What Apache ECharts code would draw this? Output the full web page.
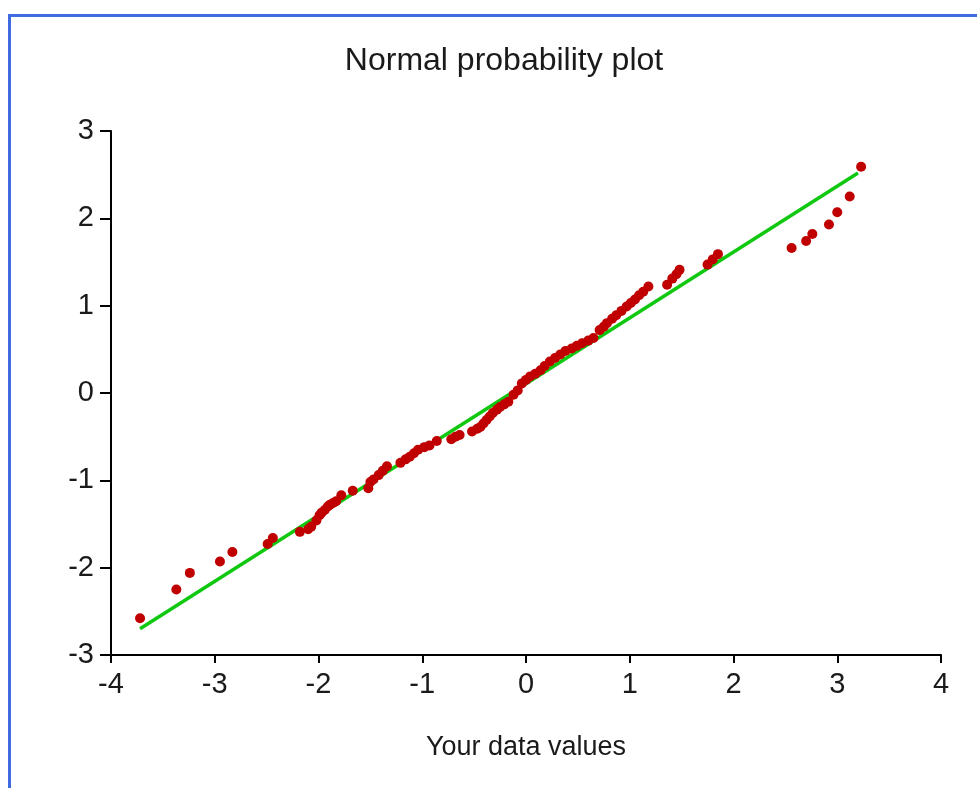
<!DOCTYPE html>
<html>
<head>
<meta charset="utf-8">
<script src="https://cdn.jsdelivr.net/npm/echarts@6/dist/echarts.min.js"></script>
<style>html,body{margin:0;padding:0;background:#fff}#c{width:977px;height:788px}</style>
</head>
<body>
<div id="c"></div>
<script>
// Observed data values (x) and normal scores (y)
const dataValues = [-3.72,-3.37,-3.24,-2.95,-2.83,-2.49,-2.44,-2.18,-2.10,-2.07,-2.02,-1.99,-1.97,-1.94,-1.91,-1.89,-1.86,-1.83,-1.78,-1.67,-1.52,-1.50,-1.47,-1.42,-1.38,-1.34,-1.21,-1.16,-1.12,-1.08,-1.04,-0.98,-0.93,-0.86,-0.72,-0.68,-0.64,-0.52,-0.47,-0.44,-0.41,-0.38,-0.35,-0.32,-0.28,-0.25,-0.21,-0.17,-0.12,-0.08,-0.04,0.00,0.04,0.09,0.14,0.18,0.23,0.28,0.33,0.38,0.44,0.49,0.54,0.60,0.65,0.71,0.75,0.78,0.83,0.87,0.92,0.97,1.01,1.05,1.09,1.13,1.18,1.36,1.41,1.45,1.48,1.75,1.80,1.85,2.56,2.70,2.76,2.92,3.00,3.12,3.23];
const normalScores = [-2.58,-2.25,-2.06,-1.93,-1.82,-1.73,-1.66,-1.59,-1.56,-1.53,-1.46,-1.40,-1.37,-1.34,-1.30,-1.28,-1.26,-1.24,-1.17,-1.12,-1.09,-1.02,-0.99,-0.94,-0.89,-0.84,-0.80,-0.76,-0.73,-0.69,-0.65,-0.62,-0.60,-0.55,-0.53,-0.50,-0.48,-0.44,-0.41,-0.39,-0.35,-0.31,-0.27,-0.23,-0.19,-0.16,-0.13,-0.10,-0.02,0.03,0.11,0.15,0.19,0.22,0.26,0.31,0.36,0.40,0.44,0.48,0.51,0.54,0.57,0.60,0.63,0.72,0.76,0.80,0.85,0.89,0.94,0.99,1.03,1.07,1.12,1.16,1.22,1.24,1.31,1.36,1.41,1.47,1.53,1.59,1.66,1.74,1.82,1.93,2.07,2.25,2.59];
// Fitted reference line endpoints
const lineX = [-3.72, 3.20];
const lineY = [-2.70, 2.52];
const xTicks = [-4,-3,-2,-1,0,1,2,3,4];
const yTicks = [-3,-2,-1,0,1,2,3];

const points = dataValues.map((x,i)=>[x, normalScores[i]]);
const fit = lineX.map((x,i)=>[x, lineY[i]]);
const FONT = 'Liberation Sans';

const chart = echarts.init(document.getElementById('c'), null, {renderer:'canvas'});
chart.setOption({
  animation:false,
  backgroundColor:'#fff',
  title:{text:'Normal probability plot', left:499, textAlign:'center', top:40,
    textStyle:{fontFamily:FONT, fontSize:32, fontWeight:'normal', color:'#1a1a1a'}},
  graphic:[
    {type:'line', shape:{x1:9.5,y1:14,x2:9.5,y2:788}, style:{stroke:'#4169e1', lineWidth:3}},
    {type:'line', shape:{x1:8,y1:15.5,x2:977,y2:15.5}, style:{stroke:'#4169e1', lineWidth:3}}
  ],
  grid:{left:111, right:36, top:131, bottom:133},
  xAxis:{type:'value', min:xTicks[0], max:xTicks[xTicks.length-1], interval:1,
    name:'Your data values', nameLocation:'middle', nameGap:79,
    nameTextStyle:{fontFamily:FONT, fontSize:27, color:'#1a1a1a'},
    axisLine:{onZero:false, lineStyle:{color:'#000', width:2}},
    axisTick:{show:true, length:8, lineStyle:{color:'#000', width:2}},
    axisLabel:{fontFamily:FONT, fontSize:29, color:'#1a1a1a', margin:15},
    splitLine:{show:false}},
  yAxis:{type:'value', min:yTicks[0], max:yTicks[yTicks.length-1], interval:1,
    axisLine:{show:true, onZero:false, lineStyle:{color:'#000', width:2}},
    axisTick:{show:true, length:11, lineStyle:{color:'#000', width:2}},
    axisLabel:{fontFamily:FONT, fontSize:29, color:'#1a1a1a', margin:17},
    splitLine:{show:false}},
  series:[
    {type:'line', data:fit, symbol:'none', lineStyle:{color:'#10c810', width:3.5}, z:2},
    {type:'scatter', data:points, symbol:'circle', symbolSize:10,
      itemStyle:{color:'#c00000', opacity:1}, z:3}
  ]
});
</script>
</body>
</html>
